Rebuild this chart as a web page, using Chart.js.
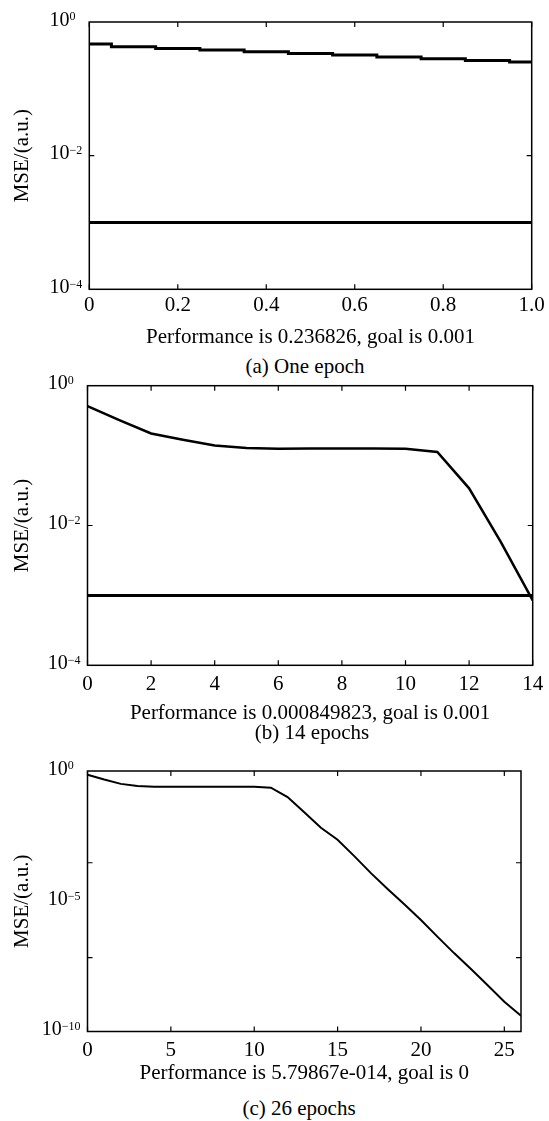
<!DOCTYPE html>
<html lang="en">
<head>
<meta charset="UTF-8">
<title>MSE training curves</title>
<script src="https://cdn.jsdelivr.net/npm/chart.js"></script>
<style>
  body { margin: 0; background: #fff; overflow: hidden; }
  #page { position: relative; width: 549px; height: 1121px; font-family: "Liberation Serif", "Times New Roman", serif; }
  .panel { position: absolute; left: 0; width: 549px; }
  .caption { position: absolute; transform: translateX(-50%); white-space: nowrap; font-size: 21px; line-height: 24px; color: #000; }
</style>
</head>
<body>
<div id="page">
  <div class="panel" style="top:0px; height:350px;"><canvas id="chartA"></canvas></div>
  <div class="caption" style="left:305px; top:354px;">(a) One epoch</div>

  <div class="panel" style="top:364px; height:362px;"><canvas id="chartB"></canvas></div>
  <div class="caption" style="left:312px; top:720px;">(b) 14 epochs</div>

  <div class="panel" style="top:749px; height:337px;"><canvas id="chartC"></canvas></div>
  <div class="caption" style="left:299px; top:1096px;">(c) 26 epochs</div>
</div>

<script>
// ---- data ----
// (a) one epoch
const epochsA = [0, 0.1, 0.2, 0.3, 0.4, 0.5, 0.6, 0.7, 0.8, 0.9, 1.0];
const mseA = [0.468, 0.427, 0.403, 0.381, 0.359, 0.339, 0.320, 0.299, 0.282, 0.266, 0.252];
const goalA = 0.001;

// (b) 14 epochs
const epochsB = [0, 1, 2, 3, 4, 5, 6, 7, 8, 9, 10, 11, 12, 13, 14];
const mseB = [0.512, 0.322, 0.207, 0.168, 0.139, 0.128, 0.125, 0.126, 0.126, 0.126, 0.125, 0.113, 0.034, 0.0058, 0.00085];
const goalB = 0.001;

// (c) 26 epochs
const epochsC = [0, 1, 2, 3, 4, 5, 6, 7, 8, 9, 10, 11, 12, 13, 14, 15, 16, 17, 18, 19, 20, 21, 22, 23, 24, 25, 26];
const mseC = [0.72, 0.47, 0.32, 0.265, 0.248, 0.248, 0.248, 0.248, 0.248, 0.248, 0.248, 0.229, 0.1, 0.026,
              0.0066, 0.0023, 5.4e-4, 1.2e-4, 2.95e-5, 7.6e-6, 1.9e-6, 4.3e-7, 1.0e-7, 2.5e-8, 6.0e-9, 1.4e-9, 4.0e-10];

// axis ticks
const xTicksA = [0, 0.2, 0.4, 0.6, 0.8, 1.0];
const xTicksB = [0, 2, 4, 6, 8, 10, 12, 14];
const xTicksC = [0, 5, 10, 15, 20, 25];
const yTicksAB = [1e-4, 1e-2, 1];
const yTicksC = [1e-10, 1e-5, 1];
const yMarksAB = [1e-2];          // small inner tick marks on the y sides
const yMarksC = [3.0e-4, 6.8e-8];

const titleA = 'Performance is 0.236826, goal is 0.001';
const titleB = 'Performance is 0.000849823, goal is 0.001';
const titleC = 'Performance is 5.79867e-014, goal is 0';

const SERIF = '"Liberation Serif", "Times New Roman", serif';
Chart.defaults.font.family = SERIF;
Chart.defaults.color = '#000';

// box frame, inward tick marks and 10^n labels
const frameAndTicks = {
    id: 'frameAndTicks',
    afterDatasetsDraw(chart, args, opts) {
        const { ctx, chartArea: a, scales: { x, y } } = chart;
        const L = 5;
        ctx.save();
        ctx.strokeStyle = '#000';
        ctx.lineWidth = 1.5;
        ctx.strokeRect(a.left, a.top, a.right - a.left, a.bottom - a.top);

        ctx.lineWidth = 1.2;
        ctx.beginPath();
        opts.xMarks.forEach(v => {
            const px = x.getPixelForValue(v);
            ctx.moveTo(px, a.bottom); ctx.lineTo(px, a.bottom - L);
            ctx.moveTo(px, a.top); ctx.lineTo(px, a.top + L);
        });
        opts.yMarks.forEach(v => {
            const py = y.getPixelForValue(v);
            ctx.moveTo(a.left, py); ctx.lineTo(a.left + L, py);
            ctx.moveTo(a.right, py); ctx.lineTo(a.right - L, py);
        });
        ctx.stroke();

        // y labels as 10 with a raised exponent
        const right = a.left - 7;
        ctx.fillStyle = '#000';
        y.ticks.forEach(t => {
            const py = y.getPixelForValue(t.value);
            const e = Math.round(Math.log10(t.value));
            const expText = e < 0 ? '\u2212' + (-e) : String(e);
            ctx.font = '12px ' + SERIF;
            const slot = ctx.measureText(e < 0 ? expText : '\u2212' + expText).width;
            const ex = right - slot;
            ctx.textAlign = 'left';
            ctx.textBaseline = 'alphabetic';
            ctx.fillText(expText, ex, py - 1.7);
            ctx.font = '20px ' + SERIF;
            ctx.textAlign = 'right';
            ctx.fillText('10', ex, py + 3.6);
        });
        ctx.restore();
    }
};

function makePanel(id, p) {
    const curve = p.xs.map((v, i) => ({ x: v, y: p.ys[i] }));
    const datasets = [{
        data: curve,
        borderColor: '#000',
        borderWidth: p.lineWidth,
        pointRadius: 0,
        tension: 0,
        stepped: p.stepped || false
    }];
    if (p.goal !== undefined) {
        datasets.push({
            data: [{ x: 0, y: p.goal }, { x: p.xMax, y: p.goal }],
            borderColor: '#000',
            borderWidth: 3,
            pointRadius: 0
        });
    }

    return new Chart(document.getElementById(id), {
        type: 'line',
        data: { datasets },
        options: {
            responsive: true,
            maintainAspectRatio: false,
            animation: false,
            layout: { padding: { top: p.padTop, right: p.padRight, left: 0, bottom: 0 } },
            plugins: {
                legend: { display: false },
                tooltip: { enabled: false },
                frameAndTicks: { xMarks: p.xTicks, yMarks: p.yMarks }
            },
            scales: {
                x: {
                    type: 'linear',
                    min: 0,
                    max: p.xMax,
                    afterBuildTicks: s => { s.ticks = p.xTicks.map(v => ({ value: v })); },
                    afterFit: s => { s.height = p.xAxisH; s.paddingLeft = 0; s.paddingRight = 0; },
                    grid: { display: false, drawTicks: false },
                    border: { display: false },
                    ticks: {
                        padding: p.tickPad,
                        autoSkip: false,
                        maxRotation: 0,
                        color: '#000',
                        font: { size: 21 },
                        callback: p.xFmt
                    },
                    title: { display: true, text: p.title, color: '#000', font: { size: 21 }, padding: { top: 0, bottom: 0 } }
                },
                y: {
                    type: 'logarithmic',
                    min: p.yMin,
                    max: 1,
                    afterBuildTicks: s => { s.ticks = p.yTicks.map(v => ({ value: v })); },
                    afterFit: s => { s.width = p.yWidth; s.paddingTop = 0; s.paddingBottom = 0; },
                    grid: { display: false, drawTicks: false },
                    border: { display: false },
                    ticks: { display: false },
                    title: { display: true, text: 'MSE/(a.u.)', color: '#000', font: { size: 21 }, padding: { top: 10, bottom: 0 } }
                }
            }
        },
        plugins: [frameAndTicks]
    });
}

makePanel('chartA', {
    xs: epochsA, ys: mseA, goal: goalA, stepped: 'middle', lineWidth: 3,
    xMax: 1, xTicks: xTicksA, xFmt: v => (v === 0 ? '0' : v.toFixed(1)),
    yMin: 1e-4, yTicks: yTicksAB, yMarks: yMarksAB,
    title: titleA, padTop: 22, padRight: 17.3, yWidth: 89.3, xAxisH: 60.7, tickPad: 4
});

makePanel('chartB', {
    xs: epochsB, ys: mseB, goal: goalB, lineWidth: 2.5,
    xMax: 14, xTicks: xTicksB, xFmt: v => String(v),
    yMin: 1e-4, yTicks: yTicksAB, yMarks: yMarksAB,
    title: titleB, padTop: 21.7, padRight: 16.3, yWidth: 87.5, xAxisH: 60.7, tickPad: 7
});

makePanel('chartC', {
    xs: epochsC, ys: mseC, lineWidth: 2,
    xMax: 26, xTicks: xTicksC, xFmt: v => String(v),
    yMin: 1e-10, yTicks: yTicksC, yMarks: yMarksC,
    title: titleC, padTop: 22, padRight: 28, yWidth: 87.5, xAxisH: 54.5, tickPad: 6
});
</script>
</body>
</html>
